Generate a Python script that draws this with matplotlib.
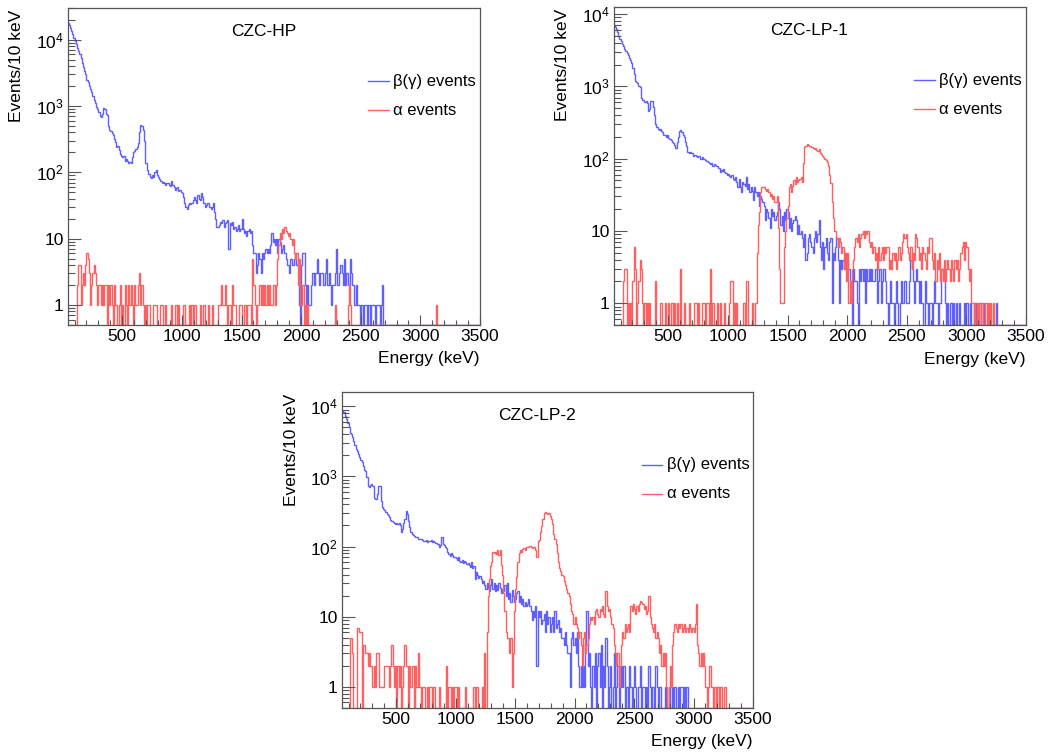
import numpy as np
import matplotlib
matplotlib.use("Agg")
import matplotlib.pyplot as plt
from matplotlib.lines import Line2D
from matplotlib.ticker import FixedLocator, MultipleLocator, LogLocator, NullFormatter

plt.rcParams['font.family'] = ['Liberation Sans', 'DejaVu Sans']
plt.rcParams['mathtext.fontset'] = 'custom'
plt.rcParams['mathtext.rm'] = 'Liberation Sans'
plt.rcParams['mathtext.default'] = 'regular'

# ---------------- data: counts per 10 keV bin, bins from 0 to 3500 keV ----------------
bin_edges = np.arange(0, 3510, 10)

hp_beta = [
    22000,21000,20000,19000,18000,16500,15000,13500,12000,10500,
    9500,8500,7500,6700,6000,5200,4500,3900,3400,3000,
    2500,2300,2000,1800,1600,1400,1250,1100,950,900,
    820,700,680,760,930,900,760,720,500,430,
    420,390,360,320,290,240,250,220,190,175,
    170,175,150,160,150,140,145,138,170,200,
    210,225,240,280,400,520,500,430,300,137,
    137,110,95,85,81,90,85,100,110,90,
    85,80,75,70,72,68,65,70,68,65,
    63,75,65,60,55,58,60,52,55,50,
    48,42,35,30,28,32,35,33,35,38,
    42,38,35,45,40,38,48,42,35,30,
    32,35,34,30,28,30,34,25,20,15,
    15,16,18,17,19,15,17,18,19,7,
    17,16,18,14,15,13,14,16,13,14,
    20,14,12,13,11,13,14,12,13,8,
    6,6,3,4,6,5,3,6,5,6,
    7,6,7,6,8,12,9,10,8,10,
    6,10,9,6,7,8,6,5,4,4,
    3,5,4,4,5,6,4,5,1,0,
    4,6,6,2,1,2,1,1,2,3,
    3,2,3,5,3,2,3,3,2,2,
    3,5,2,3,2,1,2,2,3,7,
    2,2,3,4,3,2,5,2,3,2,
    2,5,3,2,1,1,2,1,1,0,
    1,1,0,1,1,0,1,1,0,1,
    1,1,0,1,1,1,0,1,2,0,
    0,0,0,0,0,0,0,0,0,0,
    0,0,0,0,0,0,0,0,0,0,
    0,0,0,0,0,0,0,0,0,0,
    0,0,0,0,0,0,0,0,0,0,
    0,0,0,0,0,0,0,0,0,0,
    0,0,0,0,0,0,0,0,0,0,
    0,0,0,0,0,0,0,0,0,0,
    0,0,0,0,0,0,0,0,0,0,
]

hp_alpha = [
    0,0,0,0,0,0,0,0,0,0,
    0,0,2,4,4,1,2,3,2,4,
    6,5,3,1,2,3,4,3,2,1,
    2,2,1,2,1,2,2,0,2,1,
    2,1,0,2,1,1,0,1,2,0,
    1,0,2,1,0,2,1,2,1,0,
    2,1,1,2,3,1,2,1,0,1,
    0,1,1,0,0,0,1,1,1,0,
    0,0,1,1,0,0,1,0,0,0,
    0,1,0,0,1,1,0,1,0,0,
    0,1,1,0,0,0,1,0,1,0,
    1,1,0,0,0,1,0,0,1,0,
    0,0,1,0,0,1,0,0,0,0,
    1,1,1,2,1,1,2,1,0,1,
    1,0,2,1,1,0,0,0,1,1,
    0,0,1,1,0,1,1,1,0,5,
    2,1,0,1,1,2,1,2,1,2,
    1,2,1,2,1,1,2,2,1,2,
    5,8,12,10,14,12,15,13,12,11,
    12,10,8,10,6,5,6,2,5,1,
    1,2,0,1,0,1,0,0,0,0,
    0,0,0,0,0,0,0,0,0,0,
    0,0,0,0,0,0,0,0,1,0,
    0,0,0,0,0,0,0,0,0,1,
    2,1,0,0,0,0,0,0,0,0,
    0,0,0,0,0,0,0,0,0,0,
    0,0,0,0,0,0,0,0,0,0,
    0,0,0,0,0,0,0,0,0,0,
    0,0,0,0,0,0,0,0,0,0,
    0,0,0,0,0,0,0,0,0,0,
    0,0,0,0,0,0,0,0,0,0,
    0,0,0,1,0,0,0,0,0,0,
    0,0,0,0,0,0,0,0,0,0,
    0,0,0,0,0,0,0,0,0,0,
    0,0,0,0,0,0,0,0,0,0,
]

lp1_beta = [
    8000,7800,7500,7200,7000,6600,6200,5600,5000,4500,
    4200,3900,3600,3300,3100,2900,2700,2500,2300,2100,
    1800,1500,1200,1150,1100,1000,980,700,650,640,
    610,620,580,450,480,620,630,520,400,300,
    270,260,250,255,240,230,215,210,200,210,
    195,185,180,170,165,155,140,170,200,240,
    250,235,210,200,170,150,125,120,125,118,
    120,110,112,108,105,110,107,100,105,98,
    100,95,92,90,88,85,88,80,85,82,
    80,78,75,66,70,68,72,65,63,60,
    62,58,55,60,52,50,55,48,41,52,
    40,35,48,45,42,55,38,45,34,40,
    36,27,40,34,30,35,22,30,28,25,
    22,14,20,18,15,11,20,16,18,14,
    16,18,25,20,12,16,10,18,14,20,
    18,11,15,10,13,14,16,14,9,12,
    9,10,8,6,9,4,5,8,9,7,
    6,5,8,10,7,9,14,6,4,7,
    3,6,8,5,4,7,8,1,5,4,
    6,8,4,1,4,3,4,3,5,3,
    4,3,2,1,0,3,2,2,1,0,
    3,2,3,2,3,1,3,2,3,2,
    3,2,2,3,3,1,2,3,1,2,
    3,3,2,1,0,1,2,1,1,0,
    1,2,1,0,1,2,1,1,2,1,
    1,1,2,4,3,2,1,2,3,2,
    1,2,1,1,0,2,1,1,0,1,
    1,0,1,2,1,1,0,1,1,3,
    3,2,1,0,1,0,1,1,0,1,
    0,1,0,0,1,0,0,0,1,0,
    1,0,0,1,0,0,1,0,1,0,
    0,1,0,0,1,0,0,0,0,0,
    0,0,0,0,0,1,0,0,0,0,
    0,0,0,0,0,0,0,0,0,0,
    0,0,0,0,0,0,0,0,0,0,
]

lp1_alpha = [
    0,0,0,0,0,0,0,0,0,0,
    0,0,2,3,3,0,1,0,1,0,
    2,6,3,0,1,2,4,3,1,0,
    1,0,1,0,1,0,0,0,0,2,
    0,0,0,1,1,0,0,1,0,0,
    1,0,1,1,0,1,0,1,0,0,
    3,0,0,1,0,0,0,1,0,0,
    0,0,1,1,0,1,0,0,1,1,
    1,0,1,1,0,3,0,1,0,0,
    0,1,0,1,0,0,0,1,0,0,
    0,1,2,2,0,1,0,1,0,0,
    0,0,0,1,0,2,2,0,0,0,
    1,0,0,1,5,12,18,35,41,40,
    40,38,36,38,35,30,32,28,30,25,
    25,30,11,3,1,1,1,6,10,15,
    22,40,45,35,42,50,45,55,48,50,
    52,55,48,88,145,150,160,155,150,148,
    145,140,135,140,130,128,135,120,115,110,
    105,100,95,90,80,60,46,25,15,10,
    10,8,6,8,7,5,6,3,5,2,
    5,1,2,1,3,4,6,8,7,9,
    6,8,9,10,8,10,9,10,7,6,
    7,5,6,4,5,3,6,4,5,6,
    4,6,5,6,6,3,4,3,5,4,
    5,3,4,6,4,5,7,9,8,9,
    6,5,4,6,3,5,4,9,8,6,
    4,5,3,6,5,4,3,6,5,8,
    8,4,3,5,2,4,3,5,2,3,
    2,4,2,3,4,3,2,4,3,2,
    4,3,4,2,3,5,6,7,4,7,
    6,3,2,3,1,1,0,1,1,0,
    1,0,1,1,0,0,1,0,1,0,
    1,0,1,0,0,0,0,0,0,0,
    0,0,0,0,0,0,0,0,0,0,
    0,0,0,0,0,0,0,0,0,0,
]

lp2_beta = [
    9000,8800,8700,8600,8500,8400,8300,7200,6500,5800,
    5000,4200,4000,3600,3200,2800,2500,2300,2100,1900,
    1700,1600,1400,1250,1200,980,720,710,760,780,
    720,500,475,480,560,720,740,450,365,340,
    330,310,290,280,260,240,230,225,220,210,
    215,210,215,200,160,180,215,250,320,290,
    230,190,160,150,145,140,138,135,130,128,
    130,128,125,122,120,125,118,122,120,125,
    118,120,115,112,110,108,100,105,137,110,
    105,100,95,85,78,73,80,75,70,72,
    68,65,70,62,60,64,58,62,60,56,
    58,55,52,60,50,53,34,44,40,36,
    38,34,30,32,28,25,30,26,23,28,
    34,25,30,23,28,24,30,26,22,25,
    23,28,20,30,18,22,16,24,20,16,
    18,22,23,16,20,15,18,14,16,14,
    15,18,14,12,9,12,10,14,2,12,
    10,12,8,9,11,6,12,8,10,6,
    8,10,6,12,7,8,9,6,7,5,
    5,4,6,4,3,3,1,5,6,4,
    5,3,6,2,1,2,1,2,1,4,
    12,2,3,1,0,2,1,3,0,2,
    3,1,4,0,2,1,5,2,0,1,
    2,0,1,3,0,1,2,0,1,2,
    1,2,0,1,1,0,2,1,0,1,
    2,1,0,1,1,2,0,1,1,0,
    1,0,2,1,0,1,1,0,2,1,
    0,1,1,0,0,0,1,0,0,1,
    0,0,1,0,1,0,0,1,0,1,
    1,0,1,0,1,0,0,0,0,0,
    0,0,0,0,0,0,0,0,0,0,
    0,0,0,0,0,0,0,0,0,0,
    0,0,0,0,0,0,0,0,0,0,
    0,0,0,0,0,0,0,0,0,0,
    0,0,0,0,0,0,0,0,0,0,
]

lp2_alpha = [
    0,0,0,0,0,0,0,0,0,0,
    0,5,5,3,0,0,0,7,7,6,
    6,0,4,4,3,3,2,3,2,2,
    1,2,1,3,3,3,1,1,1,1,
    2,2,2,2,1,2,4,2,1,2,
    0,2,1,2,0,1,2,4,2,2,
    0,2,1,2,2,0,2,1,3,1,
    1,0,1,1,0,0,1,0,1,1,
    0,1,1,0,0,0,1,0,0,0,
    0,0,2,0,1,1,0,1,0,1,
    1,0,1,0,0,0,0,0,1,0,
    0,0,0,0,0,1,0,1,1,0,
    0,0,1,0,3,0,6,20,35,53,
    60,83,80,85,78,90,75,90,55,40,
    22,12,6,5,5,3,5,1,3,12,
    25,37,60,80,90,85,92,95,90,100,
    100,98,102,100,95,100,100,90,72,120,
    125,160,195,250,300,310,300,290,300,270,
    250,210,150,130,110,80,60,50,45,40,
    38,32,28,25,22,20,15,12,11,8,
    10,8,7,5,6,4,2,5,6,3,
    4,5,8,10,9,10,8,12,13,11,
    10,13,12,14,11,10,23,14,12,13,
    10,8,7,4,3,2,3,1,2,4,
    6,5,8,6,7,8,6,14,12,15,
    13,11,14,12,15,17,16,15,13,14,
    11,12,20,10,8,7,6,8,5,6,
    5,3,4,2,3,2,3,1,0,1,
    2,1,4,6,8,7,6,8,7,8,
    6,7,8,6,7,6,8,7,6,7,
    6,8,15,4,3,2,3,2,3,2,
    1,0,1,2,2,1,0,1,1,0,
    1,0,1,1,0,0,1,0,0,0,
    0,0,0,0,0,0,0,0,0,0,
    0,0,0,0,0,0,0,0,0,0,
]

titles = ["CZC-HP", "CZC-LP-1", "CZC-LP-2"]
y_tops = [3.0e4, 1.25e4, 1.6e4]
y_bottom = 0.5
x_range = (45, 3500)
x_tick_values = [500, 1000, 1500, 2000, 2500, 3000, 3500]
y_tick_values = [1, 10, 100, 1000, 10000]
y_tick_labels = ["1", "10", "$10^{2}$", "$10^{3}$", "$10^{4}$"]
legend_labels = ["β(γ) events", "α events"]

# ---------------- styling ----------------
BLUE = "#5f5fff"
RED = "#ff5f5f"
FRAME = "#555555"

fig = plt.figure(figsize=(10.5, 7.56), dpi=100)
rects = [
    [68 / 1050, 1 - 325 / 756, 412 / 1050, 317 / 756],
    [614 / 1050, 1 - 325 / 756, 412 / 1050, 318 / 756],
    [342 / 1050, 1 - 708 / 756, 411 / 1050, 316 / 756],
]
series = [(hp_beta, hp_alpha), (lp1_beta, lp1_alpha), (lp2_beta, lp2_alpha)]

for rect, title, ytop, (beta, alpha) in zip(rects, titles, y_tops, series):
    assert len(beta) == len(bin_edges) - 1, (title, len(beta))
    assert len(alpha) == len(bin_edges) - 1, (title, len(alpha))
    ax = fig.add_axes(rect)
    ax.set_yscale("log")
    b = np.maximum(np.asarray(beta, float), y_bottom)
    a = np.maximum(np.asarray(alpha, float), y_bottom)
    ax.stairs(b, bin_edges, baseline=None, color=BLUE, lw=1.0)
    ax.stairs(a, bin_edges, baseline=None, color=RED, lw=1.0)
    ax.set_xlim(*x_range)
    ax.set_ylim(y_bottom, ytop)

    ax.xaxis.set_major_locator(FixedLocator(x_tick_values))
    ax.xaxis.set_minor_locator(MultipleLocator(100))
    ax.yaxis.set_major_locator(FixedLocator(y_tick_values))
    ax.set_yticklabels(y_tick_labels)
    ax.yaxis.set_minor_locator(LogLocator(base=10, subs=np.arange(2, 10)))
    ax.yaxis.set_minor_formatter(NullFormatter())

    ax.tick_params(axis="both", which="both", direction="in", top=False, right=False,
                   color=FRAME, width=0.8, labelsize=12.5)
    ax.tick_params(axis="x", which="major", length=7, pad=3)
    ax.tick_params(axis="x", which="minor", length=3.5)
    ax.tick_params(axis="y", which="major", length=9.5, pad=3)
    ax.tick_params(axis="y", which="minor", length=5)
    for sp in ax.spines.values():
        sp.set_color(FRAME)
        sp.set_linewidth(0.9)

    ax.text(0.474, 0.925, title, transform=ax.transAxes, ha="center", va="center", fontsize=12.5)
    ax.text(1.0, -0.107, "Energy (keV)", transform=ax.transAxes, ha="right", va="center", fontsize=12.5)
    ax.text(-0.124, 0.995, "Events/10 keV", transform=ax.transAxes, rotation=90,
            ha="center", va="top", fontsize=12.5)

    for yy, lab, col in zip([0.769, 0.678], legend_labels, [BLUE, RED]):
        ax.add_line(Line2D([0.729, 0.778], [yy, yy], transform=ax.transAxes, color=col, lw=1.0))
        ax.text(0.790, yy, lab, transform=ax.transAxes, ha="left", va="center", fontsize=12)

fig.savefig("out.png", dpi=100)
